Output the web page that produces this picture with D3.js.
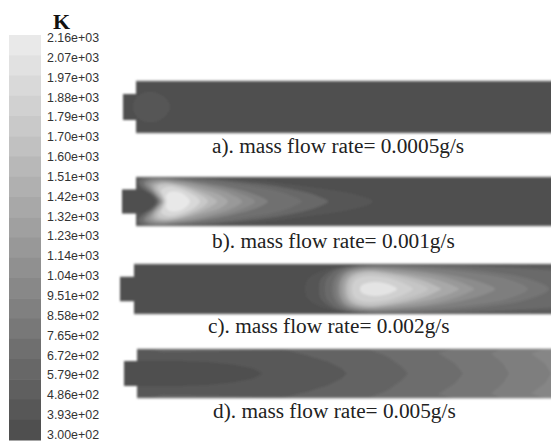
<!DOCTYPE html>
<html>
<head>
<meta charset="utf-8">
<script src="https://d3js.org/d3.v7.min.js"></script>
<style>
  html, body { margin: 0; padding: 0; background: #fff; }
  svg { display: block; }
  .tick text { font-family: "Liberation Sans", sans-serif; font-size: 12.4px; fill: #333; }
  .caption { font-family: "Liberation Serif", serif; font-size: 21.3px; fill: #222; }
</style>
</head>
<body>
<script>
var tickLabels = ["2.16e+03", "2.07e+03", "1.97e+03", "1.88e+03", "1.79e+03", "1.70e+03", "1.60e+03",
  "1.51e+03", "1.42e+03", "1.32e+03", "1.23e+03", "1.14e+03", "1.04e+03", "9.51e+02", "8.58e+02",
  "7.65e+02", "6.72e+02", "5.79e+02", "4.86e+02", "3.93e+02", "3.00e+02"];

var captions = ["a). mass flow rate= 0.0005g/s", "b). mass flow rate= 0.001g/s",
  "c). mass flow rate= 0.002g/s", "d). mass flow rate= 0.005g/s"];

// temperature of the gas that fills each channel before the contours go on top
var baseTemps = [345, 345, 345, 975];

// contours: temperature, then half outline [distance along channel, fraction of half height]
var tempsA = [425];
var outlinesA = [
  [[-3, 0], [2, 0.42], [14, 0.59], [27, 0.42], [34, 0]]
];

var tempsB = [440, 620, 720, 905, 1030, 1200, 1370, 1550, 1735, 1920, 2100];
var outlinesB = [
  [[19, 0], [15, 0.25], [8, 0.45], [-3, 0.55], [-3, 1.05], [60, 1.02], [120, 0.85], [180, 0.55], [222, 0.25], [237, 0]],
  [[21, 0], [16, 0.28], [7, 0.52], [2, 0.8], [8, 0.98], [50, 0.97], [100, 0.82], [150, 0.55], [180, 0.25], [192, 0]],
  [[22, 0], [17, 0.3], [9, 0.55], [5, 0.78], [12, 0.95], [50, 0.93], [100, 0.72], [140, 0.45], [158, 0.2], [166, 0]],
  [[23, 0], [18, 0.3], [11, 0.55], [8, 0.75], [15, 0.92], [45, 0.88], [85, 0.65], [115, 0.35], [127, 0.15], [132, 0]],
  [[24, 0], [19, 0.3], [13, 0.55], [10, 0.72], [18, 0.88], [45, 0.84], [80, 0.6], [105, 0.32], [119, 0]],
  [[25, 0], [20, 0.3], [15, 0.55], [13, 0.7], [21, 0.84], [45, 0.8], [75, 0.55], [95, 0.3], [106, 0]],
  [[26, 0], [21, 0.3], [17, 0.52], [16, 0.68], [24, 0.8], [45, 0.72], [68, 0.48], [85, 0.25], [92, 0]],
  [[27, 0], [23, 0.3], [19, 0.5], [19, 0.66], [27, 0.76], [45, 0.66], [62, 0.44], [75, 0.2], [81, 0]],
  [[28, 0], [25, 0.3], [22, 0.48], [22, 0.62], [30, 0.7], [45, 0.6], [58, 0.4], [68, 0.18], [72, 0]],
  [[29, 0], [27, 0.25], [25, 0.45], [30, 0.58], [38, 0.58], [50, 0.42], [60, 0.2], [64, 0]],
  [[31, 0], [30, 0.22], [33, 0.38], [41, 0.4], [49, 0.26], [54, 0]]
];

var tempsC = [415, 540, 667, 782, 885, 1046, 1195, 1368, 1586, 1700, 1827, 2060];
var outlinesC = [
  [[171, 0], [174, 0.4], [190, 0.75], [220, 0.95], [290, 1], [370, 0.98], [460, 0.92], [540, 0]],
  [[185, 0], [187, 0.4], [198, 0.75], [220, 0.93], [290, 0.97], [370, 0.92], [450, 0.75], [520, 0]],
  [[191, 0], [193, 0.4], [203, 0.75], [220, 0.91], [290, 0.94], [370, 0.84], [440, 0.62], [500, 0]],
  [[198, 0], [200, 0.4], [207, 0.72], [222, 0.89], [290, 0.89], [350, 0.72], [395, 0.4], [415, 0]],
  [[201, 0], [203, 0.4], [210, 0.7], [225, 0.87], [285, 0.84], [340, 0.64], [375, 0.38], [394, 0]],
  [[204, 0], [206, 0.4], [212, 0.68], [228, 0.84], [280, 0.76], [325, 0.5], [352, 0.2], [361, 0]],
  [[206, 0], [208, 0.4], [214, 0.65], [230, 0.8], [275, 0.7], [310, 0.48], [332, 0.18], [340, 0]],
  [[209, 0], [211, 0.38], [217, 0.62], [232, 0.76], [270, 0.62], [302, 0.38], [319, 0.14], [325, 0]],
  [[212, 0], [214, 0.36], [220, 0.58], [234, 0.7], [265, 0.56], [290, 0.32], [303, 0.1], [307, 0]],
  [[215, 0], [217, 0.34], [223, 0.54], [236, 0.64], [262, 0.48], [282, 0.26], [294, 0]],
  [[218, 0], [220, 0.3], [226, 0.46], [238, 0.52], [258, 0.4], [272, 0.18], [279, 0]],
  [[226, 0], [228, 0.16], [238, 0.27], [250, 0.24], [263, 0]]
];

var tempsD = [885, 790, 690, 587, 460, 357];
var outlinesD = [
  [[-20, 0], [-20, 1.2], [407, 1.2], [407, 1], [394, 0.82], [408, 0.4], [414, 0]],
  [[-20, 0], [-20, 1.2], [364, 1.2], [364, 1], [354, 0.82], [366, 0.4], [372, 0]],
  [[-20, 0], [-20, 1.2], [317, 1.2], [317, 1], [301, 0.85], [318, 0.4], [326, 0]],
  [[-20, 0], [-20, 1.2], [231, 1.2], [231, 1], [250, 0.7], [264, 0.3], [271, 0]],
  [[-20, 0], [-20, 1.2], [10, 1.2], [10, 1.05], [25, 0.88], [80, 0.92], [145, 1], [170, 0.75], [190, 0.5], [204, 0.22], [210, 0]],
  [[-20, 0], [-20, 0.52], [40, 0.52], [70, 0.48], [95, 0.38], [115, 0.22], [126, 0]]
];

var allTemps = [tempsA, tempsB, tempsC, tempsD];
var allOutlines = [outlinesA, outlinesB, outlinesC, outlinesD];

var width = 551;
var height = 441;
var overrun = 8; // channel runs past the page so the blur doesn't fade its right end

// where each channel sits on the page
var layout = [
  { x0: 136, top: 81, bottom: 133, inlet: 13, capX: 212, capY: 153, sharp: false },
  { x0: 136, top: 177, bottom: 226, inlet: 14, capX: 212, capY: 248, sharp: false },
  { x0: 134, top: 264, bottom: 314, inlet: 14, capX: 208, capY: 333, sharp: false },
  { x0: 137, top: 349, bottom: 398, inlet: 13, capX: 213, capY: 418, sharp: true }
];

var inletFraction = 0.5;

var svg = d3.select("body").append("svg")
  .attr("width", width)
  .attr("height", height);

var defs = svg.append("defs");
defs.append("filter").attr("id", "soft")
  .attr("x", "-5%").attr("y", "-10%").attr("width", "110%").attr("height", "120%")
  .append("feGaussianBlur").attr("stdDeviation", 0.9);

var grey = d3.scaleLinear().domain([300, 2160]).range(["#4b4b4b", "#ededed"]);

// legend, the bands run a bit longer than the labels
var legendY = d3.scalePoint().domain(tickLabels).range([37.5, 434.5]);
var bandY = d3.scaleBand().domain(tickLabels.slice(0, -1)).range([35, 440]);
var legend = svg.append("g");

legend.selectAll("rect")
  .data(tickLabels.slice(0, -1))
  .enter()
  .append("rect")
  .attr("x", 9)
  .attr("width", 32)
  .attr("y", function (d) { return bandY(d); })
  .attr("height", bandY.bandwidth() + 0.5)
  .attr("fill", function (d, i) {
    return grey((+d + +tickLabels[i + 1]) / 2);
  });

var axis = svg.append("g")
  .attr("transform", "translate(41,0)")
  .call(d3.axisRight(legendY).tickSize(0).tickPadding(6));
axis.select(".domain").remove();

svg.append("text")
  .attr("x", 53)
  .attr("y", 29)
  .style("font-family", "Liberation Serif, serif")
  .style("font-weight", "700")
  .style("font-size", "22px")
  .attr("fill", "#111")
  .text("K");

// channels
svg.selectAll(".channel")
  .data(layout)
  .enter()
  .append("g")
  .attr("class", "channel")
  .each(function (p, i) {
    var g = d3.select(this);
    var x = d3.scaleLinear().domain([0, width - p.x0]).range([p.x0, width]);
    var y = d3.scaleLinear().domain([-1, 1]).range([p.bottom, p.top]);
    var end = width - p.x0 + overrun;

    var outline = [[-p.inlet, -inletFraction], [-p.inlet, inletFraction], [0, inletFraction], [0, 1],
      [end, 1], [end, -1], [0, -1], [0, -inletFraction]];

    var straight = d3.line()
      .x(function (d) { return x(d[0]); })
      .y(function (d) { return y(d[1]); })
      .curve(d3.curveLinearClosed);

    defs.append("clipPath").attr("id", "clip" + i)
      .append("path").attr("d", straight(outline));

    var inner = g.append("g").attr("filter", "url(#soft)");
    var clipped = inner.append("g").attr("clip-path", "url(#clip" + i + ")");

    clipped.append("path")
      .attr("d", straight(outline))
      .attr("fill", grey(baseTemps[i]));

    var contourLine = d3.line()
      .x(function (d) { return x(d[0]); })
      .y(function (d) { return y(d[1]); })
      .curve(p.sharp ? d3.curveLinearClosed : d3.curveCatmullRomClosed.alpha(0.5));

    clipped.selectAll(".contour")
      .data(allOutlines[i])
      .enter()
      .append("path")
      .attr("class", "contour")
      .attr("d", function (half) {
        var lower = half.slice(1, -1).reverse().map(function (d) { return [d[0], -d[1]]; });
        return contourLine(half.concat(lower));
      })
      .attr("fill", function (d, j) { return grey(allTemps[i][j]); });

    // only the long walls show a light edge
    inner.selectAll(".wall")
      .data([1, -1])
      .enter()
      .append("line")
      .attr("class", "wall")
      .attr("x1", x(0))
      .attr("x2", x(end))
      .attr("y1", function (d) { return y(d); })
      .attr("y2", function (d) { return y(d); })
      .attr("stroke", "#9a9a9a")
      .attr("stroke-width", 0.8);

    g.append("text")
      .attr("class", "caption")
      .attr("x", p.capX)
      .attr("y", p.capY)
      .text(captions[i]);
  });
</script>
</body>
</html>
